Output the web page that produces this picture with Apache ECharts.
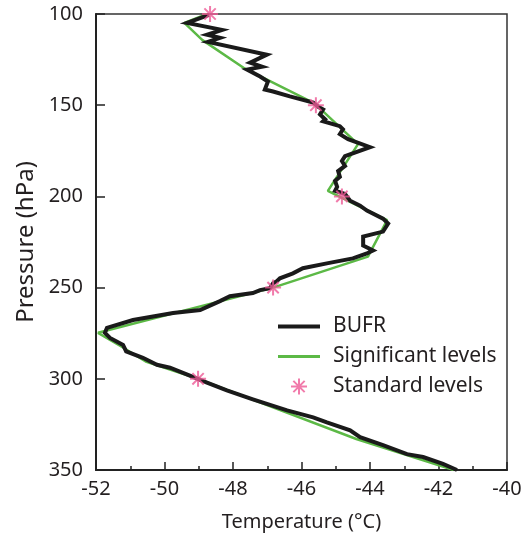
<!DOCTYPE html>
<html>
<head>
<meta charset="utf-8">
<script src="https://cdn.jsdelivr.net/npm/echarts@6/dist/echarts.min.js"></script>
<style>
  html, body { margin: 0; padding: 0; background: #fff; }
  #chart { width: 526px; height: 537px; }
</style>
</head>
<body>
<div id="chart"></div>
<script>
// BUFR high resolution profile (temperature °C, pressure hPa)
var bufrTemp = [-48.70, -49.34, -48.32, -48.76, -48.38, -48.73, -48.73, -47.01, -47.50, -47.15,
  -47.59, -47.21, -46.98, -47.07, -46.83, -46.34, -45.66, -45.52, -45.37, -45.46,
  -45.31, -45.37, -44.88, -44.79, -44.88, -44.64, -44.00, -44.73, -44.82, -44.73,
  -44.93, -44.88, -45.02, -44.96, -45.02, -44.73, -44.58, -44.29, -44.09, -43.62,
  -43.47, -43.62, -44.20, -44.20, -43.91, -44.09, -44.50, -45.26, -45.96, -46.25,
  -46.63, -46.72, -46.83, -46.92, -47.21, -47.42, -48.09, -48.38, -48.96, -49.75,
  -50.92, -51.68, -51.74, -51.59, -51.21, -51.12, -50.63, -50.22, -49.84, -49.26,
  -48.76, -48.18, -47.42, -46.42, -45.66, -45.26, -44.58, -44.29, -43.62, -42.92,
  -42.45, -41.87, -41.46];
var bufrPres = [100.5, 104.9, 108.7, 111.4, 113.1, 115.3, 116.0, 122.3, 126.7, 128.9,
  130.5, 134.3, 137.0, 141.4, 142.5, 145.2, 148.5, 150.7, 152.3, 155.0,
  157.7, 158.8, 161.5, 163.2, 165.9, 168.6, 173.0, 177.9, 180.6, 183.3,
  186.1, 189.3, 191.5, 194.8, 196.9, 198.6, 202.4, 205.1, 207.8, 212.2,
  214.9, 219.3, 222.0, 226.9, 229.6, 231.3, 234.0, 236.7, 239.4, 242.2,
  244.9, 246.5, 247.6, 250.3, 251.4, 253.0, 254.7, 257.4, 262.3, 263.9,
  267.8, 272.1, 274.8, 277.6, 281.4, 285.0, 288.5, 292.3, 293.9, 298.3,
  302.1, 306.4, 311.3, 317.3, 321.1, 323.9, 328.2, 332.0, 336.4, 341.3,
  342.9, 346.7, 350.0];

// significant levels
var sigTemp = [-48.75, -49.42, -48.90, -47.65, -45.62, -44.35, -45.23, -43.50, -44.06, -46.83,
  -51.94, -51.20, -50.55, -49.02, -44.40, -41.55];
var sigPres = [100.0, 104.9, 114.2, 130.0, 149.0, 171.3, 197.0, 213.0, 233.0, 250.0,
  274.8, 283.0, 290.5, 300.0, 333.0, 350.0];

// standard levels
var stdTemp = [-48.67, -45.58, -44.82, -46.83, -49.02];
var stdPres = [100, 150, 200, 250, 300];

var xTicks = [-52, -40, 2];
var yTicks = [100, 350, 50];

function pairs(t, p){
  var out = [];
  for(var i=0;i<t.length;i++){
    out.push([t[i], p[i]]);
  }
  return out;
}

// asterisk made of four thin bars
var starPath = 'path://M0 8.75L20 8.75L20 11.25L0 11.25Z' +
  'M8.75 0L11.25 0L11.25 20L8.75 20Z' +
  'M3.81 2.05L17.95 16.19L16.19 17.95L2.05 3.81Z' +
  'M17.95 3.81L3.81 17.95L2.05 16.19L16.19 2.05Z';
var blackIcon = 'path://M0 0L42 0L42 4L0 4Z';
var greenIcon = 'path://M0 0L42 0L42 3L0 3Z';

var txt = '#231f20';
var font = 'Noto Sans';
var pink = '#ee5a96';

var chart = echarts.init(document.getElementById('chart'));
var option = {
  animation: false,
  backgroundColor: '#fff',
  textStyle: { fontFamily: font, color: txt },
  grid: {
    left: 96, right: 19, top: 14, bottom: 64,
    show: true, borderColor: '#333', borderWidth: 1.5
  },
  legend: {
    orient: 'vertical',
    left: 273, top: 311,
    itemWidth: 42, itemHeight: 16, itemGap: 9,
    textStyle: { fontSize: 21, color: txt, fontFamily: font, padding: [0, 0, 0, 8] },
    data: [
      { name: 'BUFR', icon: blackIcon },
      { name: 'Significant levels', icon: greenIcon },
      { name: 'Standard levels', icon: starPath }
    ]
  },
  xAxis: {
    type: 'value',
    min: xTicks[0], max: xTicks[1], interval: xTicks[2],
    name: 'Temperature (°C)',
    nameLocation: 'middle', nameGap: 42,
    nameTextStyle: { fontSize: 20, color: txt, fontFamily: font },
    axisLine: { lineStyle: { color: '#222', width: 2 } },
    axisTick: { inside: true, length: 8, lineStyle: { color: '#222', width: 1.5 } },
    minorTick: { show: true, splitNumber: 2, length: 4, lineStyle: { color: '#222', width: 1.5 } },
    axisLabel: { fontSize: 20, color: txt, margin: 9 },
    splitLine: { show: false }
  },
  yAxis: {
    type: 'value',
    inverse: true,
    min: yTicks[0], max: yTicks[1], interval: yTicks[2],
    name: 'Pressure (hPa)',
    nameLocation: 'middle', nameGap: 58,
    nameTextStyle: { fontSize: 24, color: txt, fontFamily: font },
    axisLine: { lineStyle: { color: '#222', width: 2 } },
    axisTick: { inside: true, length: 9, lineStyle: { color: '#222', width: 1.5 } },
    axisLabel: { fontSize: 20, color: txt, margin: 13 },
    splitLine: { show: false }
  },
  series: [
    {
      name: 'Significant levels',
      type: 'line',
      data: pairs(sigTemp, sigPres),
      symbol: 'none',
      z: 2,
      lineStyle: { color: '#5cb946', width: 2.5 },
      itemStyle: { color: '#5cb946' }
    },
    {
      name: 'BUFR',
      type: 'line',
      data: pairs(bufrTemp, bufrPres),
      symbol: 'none',
      z: 3,
      lineStyle: { color: '#1a1a1a', width: 4, join: 'miter' },
      itemStyle: { color: '#1a1a1a' }
    },
    {
      name: 'Standard levels',
      type: 'scatter',
      data: pairs(stdTemp, stdPres),
      symbol: starPath,
      symbolSize: 16,
      z: 4,
      itemStyle: { color: pink }
    }
  ]
};
chart.setOption(option);
</script>
</body>
</html>
